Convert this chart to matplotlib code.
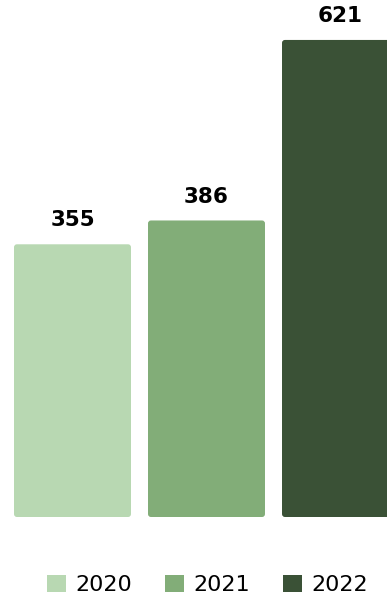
import matplotlib.pyplot as plt
from matplotlib.patches import FancyBboxPatch, Patch

# data
years = ["2020", "2021", "2022"]
values = [355, 386, 621]
colors = ["#b8d8b2", "#82ad78", "#3a5136"]

plt.rcParams['font.family'] = ['DejaVu Sans']

fig = plt.figure(figsize=(3.87, 5.96), dpi=100)
# axes fills the width, bars bottom at 517px from top
ax = fig.add_axes([0, 79 / 596, 1, 517 / 596])

x = list(range(len(values)))
bars = ax.bar(x, values, width=0.873, color=colors)

ax.set_xlim(-0.541, 2.347)
ax.set_ylim(0, 673)
ax.axis('off')

# swap the plain rectangles for slightly rounded ones
for b in bars:
    bx, by, bw, bh = b.get_x(), b.get_y(), b.get_width(), b.get_height()
    rp = FancyBboxPatch((bx, by), bw, bh,
                        boxstyle="round,pad=0,rounding_size=0.022",
                        mutation_aspect=175,
                        facecolor=b.get_facecolor(), edgecolor='none')
    b.set_visible(False)
    ax.add_patch(rp)

# value labels
for xi, v in zip(x, values):
    ax.annotate(str(v), (xi, v), xytext=(0, 10), textcoords='offset points',
                ha='center', va='bottom', fontsize=15.5, fontweight='bold', color='black')

handles = [Patch(facecolor=c, edgecolor='none', label=y) for c, y in zip(colors, years)]
fig.legend(handles=handles, loc='center', bbox_to_anchor=(0.536, 0.018), ncol=3,
           frameon=False, fontsize=16, handlelength=0.82, handleheight=0.82,
           handletextpad=0.42, columnspacing=1.52, borderpad=0, borderaxespad=0)

fig.savefig("out.png", dpi=100)
